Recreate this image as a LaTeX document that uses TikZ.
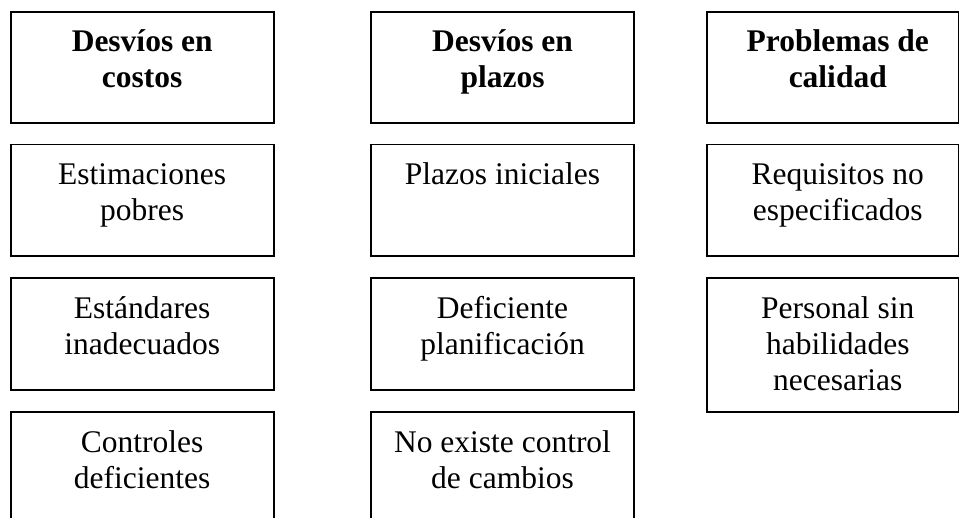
\documentclass[tikz,border=0pt]{standalone}
\usepackage{fontspec}
\setmainfont{Liberation Serif}
% #1 width, #2 height, #3 left shift of text, #4 text
\newcommand\cellbox[4]{\parbox[t][#2pt][t]{#1pt}{\centering\leftskip=#3pt plus 1fil\rule{0pt}{40pt}#4}}
\begin{document}
\begin{tikzpicture}[x=1pt,y=-1pt,
  cell/.style={draw, line width=1.8pt, inner sep=0pt, outer sep=0pt, anchor=north west,
               font=\fontsize{31.5}{36}\selectfont},
  head/.style={cell, font=\fontsize{31.5}{36}\selectfont\bfseries}]
\useasboundingbox (0,0) rectangle (960,518);
\clip (0,0) rectangle (960,518);
% headers
\node[head] (h1) at (10.7,11.7) {\cellbox{263}{111}{0}{Desvíos en\\costos}};
\node[head] (h2) at (371,11.7)  {\cellbox{263}{111}{0}{Desvíos en\\plazos}};
\node[head] (h3) at (707,11.7)  {\cellbox{251.5}{111}{10}{Problemas de\\calidad}};
% row 2
\node[cell] (a1) at (10.7,144.5) {\cellbox{263}{111.5}{0}{Estimaciones\\pobres}};
\node[cell] (a2) at (371,144.5)  {\cellbox{263}{111.5}{0}{Plazos iniciales}};
\node[cell] (a3) at (707,144.5)  {\cellbox{251.5}{111.5}{10}{Requisitos no\\especificados}};
% row 3
\node[cell] (b1) at (10.7,278) {\cellbox{263}{112}{0}{Estándares\\inadecuados}};
\node[cell] (b2) at (371,278)  {\cellbox{263}{112}{0}{Deficiente\\planificación}};
\node[cell] (b3) at (707,278)  {\cellbox{251.5}{134}{10}{Personal sin\\habilidades\\necesarias}};
% row 4
\node[cell] (c1) at (10.7,412) {\cellbox{263}{112}{0}{Controles\\deficientes}};
\node[cell] (c2) at (371,412)  {\cellbox{263}{112}{0}{No existe control\\de cambios}};
\end{tikzpicture}
\end{document}
